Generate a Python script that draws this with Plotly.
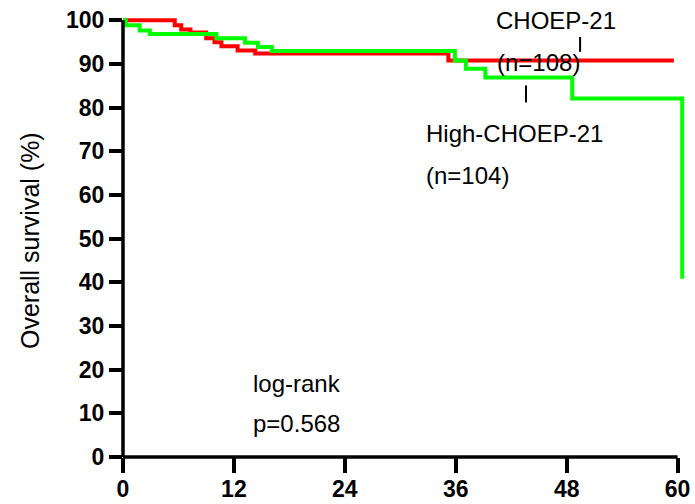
import plotly.graph_objects as go

# Kaplan-Meier step data (months, % survival)
red_t = [0, 5.6, 6.3, 7.3, 9.0, 9.9, 10.65, 12.4, 14.3, 35.2, 59.6]
red_s = [100, 98.9, 97.9, 97.2, 95.9, 95.0, 94.1, 93.1, 92.4, 90.8, 90.8]

green_t = [0, 0.3, 1.8, 2.9, 10.1, 13.2, 14.6, 16.1, 35.9, 37.1, 39.2, 48.6, 60.5]
green_s = [100, 98.9, 97.7, 96.9, 95.9, 94.9, 93.9, 93.0, 90.8, 88.9, 86.9, 82.1, 40.8]

x_ticks = [0, 12, 24, 36, 48, 60]
y_ticks = [0, 10, 20, 30, 40, 50, 60, 70, 80, 90, 100]

FONT = "Arial, Liberation Sans, sans-serif"

fig = go.Figure()
fig.add_trace(go.Scatter(x=red_t, y=red_s, mode="lines", line=dict(color="#FF0000", width=4, shape="hv"),
                         showlegend=False, hoverinfo="skip"))
fig.add_trace(go.Scatter(x=green_t, y=green_s, mode="lines", line=dict(color="#00FF00", width=4, shape="hv"),
                         showlegend=False, hoverinfo="skip"))

fig.update_layout(
    width=695, height=504,
    margin=dict(l=123, r=10, t=16, b=47, autoexpand=False),
    paper_bgcolor="white", plot_bgcolor="white",
    xaxis=dict(range=[0, 60.8], tickvals=x_ticks, ticks="outside", ticklen=15, tickwidth=3.5,
               tickcolor="black", showgrid=False, zeroline=False, showline=False, automargin=False,
               ticklabelstandoff=-4,
               tickfont=dict(family=FONT, size=23, color="black", weight="bold")),
    yaxis=dict(range=[0, 101], tickvals=y_ticks, ticks="outside", ticklen=13, tickwidth=3.5,
               tickcolor="black", showgrid=False, zeroline=False, showline=False, automargin=False,
               tickfont=dict(family=FONT, size=23, color="black", weight="bold")),
)

# axis lines
fig.add_shape(type="line", xref="x", yref="paper", x0=0, x1=60, y0=0, y1=0,
              line=dict(color="black", width=3.5))
fig.add_shape(type="line", xref="paper", yref="y", x0=0, x1=0, y0=0, y1=100,
              line=dict(color="black", width=3.5))

# label pointers
fig.add_shape(type="line", xref="x", yref="y", x0=49.45, x1=49.45, y0=92.8, y1=96.2,
              line=dict(color="black", width=2))
fig.add_shape(type="line", xref="x", yref="y", x0=43.6, x1=43.6, y0=81.2, y1=85.1,
              line=dict(color="black", width=2))

tf = dict(family=FONT, size=24, color="black")
ann = [
    ("CHOEP-21", 46.85, 100.0, "center"),
    ("(n=108)", 45.0, 90.4, "center"),
    ("High-CHOEP-21", 32.6, 74.1, "left"),
    ("(n=104)", 32.6, 64.5, "left"),
    ("log-rank", 13.85, 16.9, "left"),
    ("p=0.568", 13.85, 7.7, "left"),
]
for text, x, y, xa in ann:
    fig.add_annotation(text=text, x=x, y=y, xref="x", yref="y", xanchor=xa, yanchor="middle",
                       showarrow=False, font=tf)

fig.add_annotation(text="Overall survival (%)", x=-0.1655, y=0.492, xref="paper", yref="paper",
                   textangle=-90, showarrow=False, xanchor="center", yanchor="middle",
                   font=dict(family=FONT, size=25, color="black"))

fig.write_html("out.html")
